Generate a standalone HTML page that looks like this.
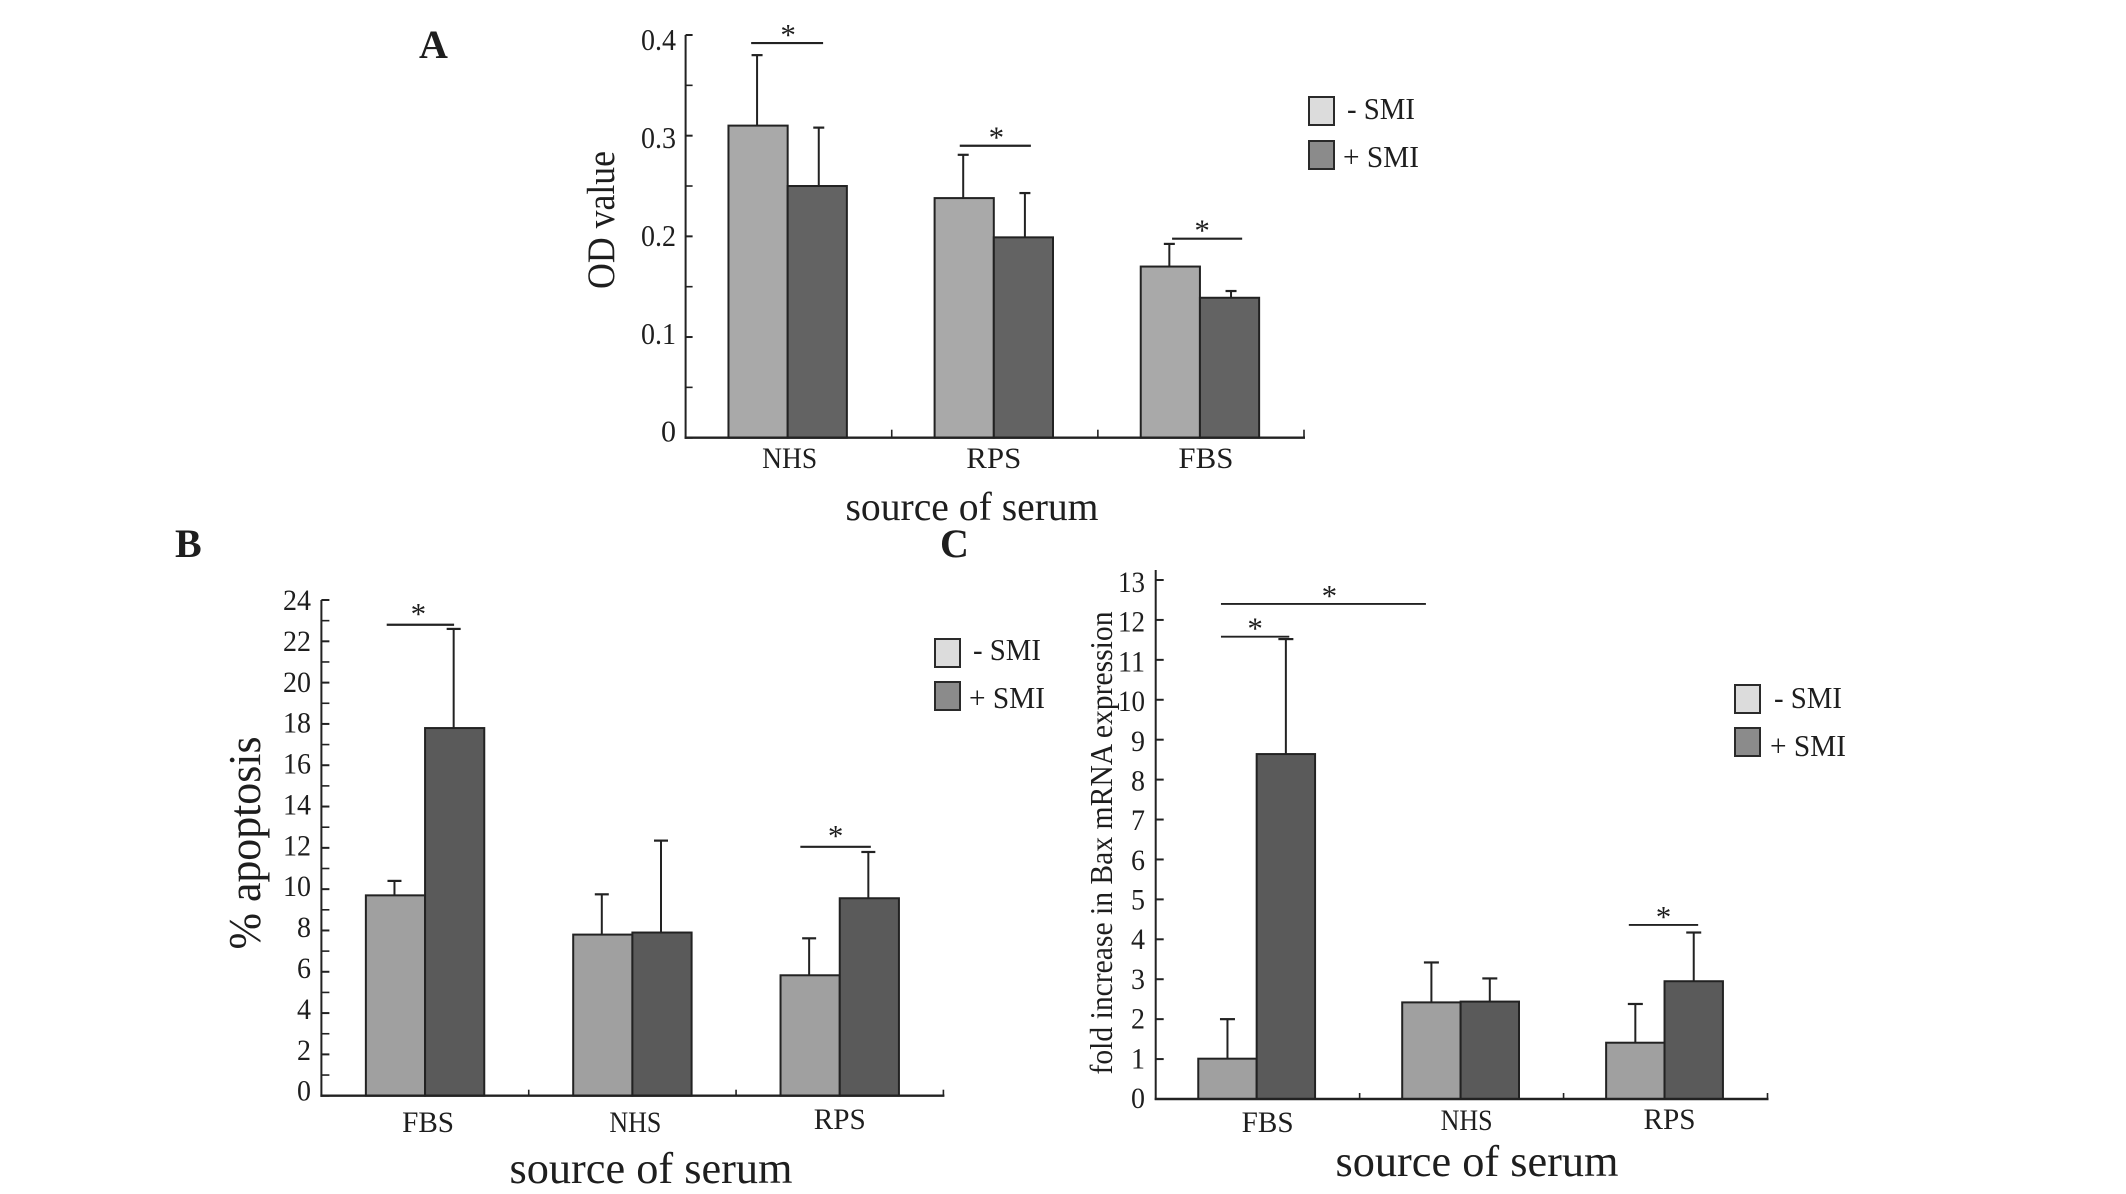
<!DOCTYPE html>
<html lang="en">
<head>
<meta charset="utf-8">
<title>Serum source charts</title>
<style>
html,body{margin:0;padding:0;background:#fff;}
svg{display:block;}
text{font-family:"Liberation Serif",serif;fill:#1e1e1e;}
</style>
</head>
<body>
<svg id="figure" xmlns="http://www.w3.org/2000/svg" width="2126" height="1194" viewBox="0 0 2126 1194">
  <text x="419" y="58" font-size="40" font-weight="bold">A</text>
  <text x="175" y="557" font-size="40" font-weight="bold">B</text>
  <text x="940" y="557" font-size="40" font-weight="bold">C</text>
</svg>
<script>
// Panel A values
const categoriesA = ['NHS', 'RPS', 'FBS'];
const minusSmiA = [0.31, 0.238, 0.17];
const plusSmiA = [0.25, 0.199, 0.139];
const minusErrTopA = [0.38, 0.281, 0.1925];
const plusErrTopA = [0.308, 0.243, 0.1457];
const tickValuesA = [0, 0.1, 0.2, 0.3, 0.4];
const tickLabelsA = ['0', '0.1', '0.2', '0.3', '0.4'];
const sigLevelsA = [0.392, 0.29, 0.1977];
const sigFromA = [0.318, 1.33, 2.36];
const sigToA = [0.667, 1.675, 2.7];

// Panel B values
const categoriesB = ['FBS', 'NHS', 'RPS'];
const minusSmiB = [9.7, 7.8, 5.83];
const plusSmiB = [17.8, 7.9, 9.56];
const minusErrTopB = [10.4, 9.75, 7.62];
const plusErrTopB = [22.6, 12.35, 11.8];
const tickValuesB = [0, 2, 4, 6, 8, 10, 12, 14, 16, 18, 20, 22, 24];
const tickLabelsB = ['0', '2', '4', '6', '8', '10', '12', '14', '16', '18', '20', '22', '24'];
const sigLevelsB = [22.8, 12.05];
const sigFromB = [0.315, 2.31];
const sigToB = [0.64, 2.65];

// Panel C values
const categoriesC = ['FBS', 'NHS', 'RPS'];
const minusSmiC = [1.01, 2.42, 1.41];
const plusSmiC = [8.64, 2.44, 2.95];
const minusErrTopC = [2.0, 3.42, 2.38];
const plusErrTopC = [11.52, 3.02, 4.17];
const tickValuesC = [0, 1, 2, 3, 4, 5, 6, 7, 8, 9, 10, 11, 12, 13];
const tickLabelsC = ['0', '1', '2', '3', '4', '5', '6', '7', '8', '9', '10', '11', '12', '13'];
const sigLevelsC = [12.4, 11.58, 4.36];
const sigFromC = [0.32, 0.32, 2.32];
const sigToC = [1.325, 0.655, 2.66];

const legendLabels = ['- SMI', '+ SMI'];

const SVG_NS = 'http://www.w3.org/2000/svg';
const figure = document.getElementById('figure');

function make(parent, tag, attrs, content) {
  const node = document.createElementNS(SVG_NS, tag);
  for (const key in attrs) node.setAttribute(key, attrs[key]);
  if (content !== undefined) node.textContent = content;
  parent.appendChild(node);
  return node;
}

function drawChart(c) {
  const root = make(figure, 'g', {});
  
  

  const yMax = c.tickValues[c.tickValues.length - 1];
  const pxPerUnit = (c.baseline - c.topTick) / yMax;
  const yScale = v => c.baseline - v * pxPerUnit;
  const band = (c.right - c.left) / c.categories.length;
  const bandX = u => c.left + u * band;
  const stroke = '#222';

  // Bars and error bars are drawn first so the axis sits on top
  c.categories.forEach((cat, i) => {
    const mid = bandX(i + 0.5) + c.barDx;
    [[c.minus, c.minusErr, c.lightFill, 'minus-smi', -1, c.errDxLight], [c.plus, c.plusErr, c.darkFill, 'plus-smi', 0, c.errDxDark]].forEach(s => {
      const xStart = mid + s[4] * c.barWidth;
      const xCenter = xStart + c.barWidth / 2 + s[5];
      const top = yScale(s[0][i]);
      const errTop = yScale(s[1][i]);

      const stem = make(root, 'line', {x1: xCenter, x2: xCenter, y1: top, y2: errTop, stroke: stroke, 'stroke-width': 2});
      
      

      const cap = make(root, 'line', {x1: xCenter - c.capWidth / 2, x2: xCenter + c.capWidth / 2, y1: errTop, y2: errTop, stroke: stroke, 'stroke-width': 2.2});
      
      

      const bar = make(root, 'rect', {x: xStart, y: top, width: c.barWidth, height: c.baseline - top, fill: s[2], stroke: stroke, 'stroke-width': 2});
      
      
    });
  });

  // Axes
  const yAxis = make(root, 'line', {x1: c.left, x2: c.left, y1: c.axisTop, y2: c.baseline + 1, stroke: stroke, 'stroke-width': 2});
  
  

  const xAxis = make(root, 'line', {x1: c.left - 1, x2: c.right + 1, y1: c.baseline, y2: c.baseline, stroke: stroke, 'stroke-width': 2.4});
  
  

  // Y ticks, with the minor tick half way up each step
  c.tickValues.forEach((v, i) => {
    const y = yScale(v);
    const tick = make(root, 'line', {x1: c.left, x2: c.left + c.tickLen, y1: y, y2: y, stroke: stroke, 'stroke-width': 2});
    
    

    const shift = c.labelShiftBottom + (c.labelShiftTop - c.labelShiftBottom) * (v / yMax);
    const label = c.tickLabels[i];
    const tickText = make(root, 'text', {
      x: c.labelRight, y: y + shift, 'font-size': c.tickFont, 'text-anchor': 'end',
      textLength: c.labelWidth(label), lengthAdjust: 'spacingAndGlyphs'
    }, label);
    
    

    if (c.minorTicks && i < c.tickValues.length - 1) {
      const ym = yScale((v + c.tickValues[i + 1]) / 2);
      const minor = make(root, 'line', {x1: c.left, x2: c.left + c.tickLen, y1: ym, y2: ym, stroke: stroke, 'stroke-width': 1.6});
      
      
    }
  });

  // X ticks and category labels
  c.categories.forEach((cat, i) => {
    const xt = bandX(i + 1);
    const tick = make(root, 'line', {x1: xt, x2: xt, y1: c.baseline, y2: c.baseline - c.xTickLen, stroke: stroke, 'stroke-width': 1.6});
    
    

    const catText = make(root, 'text', {
      x: bandX(i + 0.5) + c.catDx[i], y: c.catY[i], 'font-size': c.catFont, 'text-anchor': 'middle',
      textLength: c.catWidth, lengthAdjust: 'spacingAndGlyphs'
    }, cat);
    
    
  });

  // Significance brackets
  c.sigLevels.forEach((lvl, i) => {
    const x1 = bandX(c.sigFrom[i]);
    const x2 = bandX(c.sigTo[i]);
    const y = yScale(lvl);
    const line = make(root, 'line', {x1: x1, x2: x2, y1: y, y2: y, stroke: stroke, 'stroke-width': c.sigStroke});
    
    

    const star = make(root, 'text', {x: (x1 + x2) / 2 + c.starDx[i], y: y + c.starDy, 'font-size': 31, 'text-anchor': 'middle'}, '*');
    
    
  });

  // Axis titles
  const xTitle = make(root, 'text', {
    x: c.xTitle.x, y: c.xTitle.y, 'font-size': c.xTitle.size, 'text-anchor': 'middle',
    textLength: c.xTitle.len, lengthAdjust: 'spacingAndGlyphs'
  }, 'source of serum');
  
  

  const yTitle = make(root, 'text', {
    x: 0, y: 0, 'font-size': c.yTitle.size, 'text-anchor': 'middle',
    textLength: c.yTitle.len, lengthAdjust: 'spacingAndGlyphs',
    transform: 'translate(' + c.yTitle.x + ' ' + c.yTitle.y + ') rotate(-90)'
  }, c.yTitle.text);
  
  

  // Legend
  legendLabels.forEach((lab, i) => {
    const L = c.legend;
    const swatch = make(root, 'rect', {
      x: L.x, y: L.y[i], width: L.w, height: L.h,
      fill: i === 0 ? '#dcdcdc' : '#8b8b8b', stroke: '#2a2a2a', 'stroke-width': 2
    });
    
    

    const legendText = make(root, 'text', {
      x: L.tx[i], y: L.ty[i], 'font-size': 31,
      textLength: L.tw[i], lengthAdjust: 'spacingAndGlyphs'
    }, lab);
    
    
  });
}

drawChart({
  id: 'a', categories: categoriesA, minus: minusSmiA, plus: plusSmiA,
  minusErr: minusErrTopA, plusErr: plusErrTopA,
  tickValues: tickValuesA, tickLabels: tickLabelsA, minorTicks: true,
  sigLevels: sigLevelsA, sigFrom: sigFromA, sigTo: sigToA,
  left: 685.6, right: 1304, baseline: 437.7, topTick: 35, axisTop: 35,
  barWidth: 59.2, barDx: -1, errDxLight: -1, errDxDark: 1.5, capWidth: 11, tickLen: 7, xTickLen: 8,
  lightFill: '#a9a9a9', darkFill: '#636363', sigStroke: 2.2, starDy: 2, starDx: [1, 1, -5],
  tickFont: 31, labelRight: 676, labelShiftTop: 15, labelShiftBottom: 4,
  labelWidth: s => s.length === 1 ? 15 : 35,
  catFont: 30, catWidth: 55, catDx: [1, -1, 5], catY: [468, 468, 468],
  xTitle: {x: 972, y: 520, size: 40, len: 253},
  yTitle: {text: 'OD value', x: 614, y: 220, size: 39, len: 138},
  legend: {x: 1309, y: [97, 141], w: 25, h: 28, tx: [1347, 1343], ty: [119, 167], tw: [68, 76]}
});

drawChart({
  id: 'b', categories: categoriesB, minus: minusSmiB, plus: plusSmiB,
  minusErr: minusErrTopB, plusErr: plusErrTopB,
  tickValues: tickValuesB, tickLabels: tickLabelsB, minorTicks: true,
  sigLevels: sigLevelsB, sigFrom: sigFromB, sigTo: sigToB,
  left: 321.4, right: 943.4, baseline: 1095.7, topTick: 600, axisTop: 600,
  barWidth: 59.2, barDx: 0, errDxLight: -1, errDxDark: -1, capWidth: 14, tickLen: 8, xTickLen: 6,
  lightFill: '#a0a0a0', darkFill: '#5a5a5a', sigStroke: 2.2, starDy: -1, starDx: [-2, 0],
  tickFont: 30, labelRight: 311, labelShiftTop: 10, labelShiftBottom: 5,
  labelWidth: s => s.length === 1 ? 14 : 28,
  catFont: 30, catWidth: 52, catDx: [3, 3, 0], catY: [1132, 1132, 1129],
  xTitle: {x: 651, y: 1183, size: 44, len: 283},
  yTitle: {text: '% apoptosis', x: 260, y: 843, size: 46, len: 213},
  legend: {x: 935, y: [639, 682], w: 25, h: 28, tx: [973, 969], ty: [660, 708], tw: [68, 76]}
});

drawChart({
  id: 'c', categories: categoriesC, minus: minusSmiC, plus: plusSmiC,
  minusErr: minusErrTopC, plusErr: plusErrTopC,
  tickValues: tickValuesC, tickLabels: tickLabelsC, minorTicks: false,
  sigLevels: sigLevelsC, sigFrom: sigFromC, sigTo: sigToC,
  left: 1155.7, right: 1767.5, baseline: 1099, topTick: 580, axisTop: 570,
  barWidth: 58.4, barDx: -1, errDxLight: 0, errDxDark: 0, capWidth: 15, tickLen: 8, xTickLen: 6,
  lightFill: '#a0a0a0', darkFill: '#5a5a5a', sigStroke: 1.8, starDy: 2, starDx: [6, 0, 0],
  tickFont: 30, labelRight: 1145, labelShiftTop: 12, labelShiftBottom: 9,
  labelWidth: s => s.length === 1 ? 14 : 27,
  catFont: 30, catWidth: 52, catDx: [10, 5, 4], catY: [1132, 1130, 1129],
  xTitle: {x: 1477, y: 1176, size: 44, len: 283},
  yTitle: {text: 'fold increase in Bax mRNA expression', x: 1112, y: 843, size: 32, len: 463},
  legend: {x: 1735, y: [685, 728], w: 25, h: 28, tx: [1774, 1770], ty: [708, 756], tw: [68, 76]}
});
</script>
</body>
</html>
